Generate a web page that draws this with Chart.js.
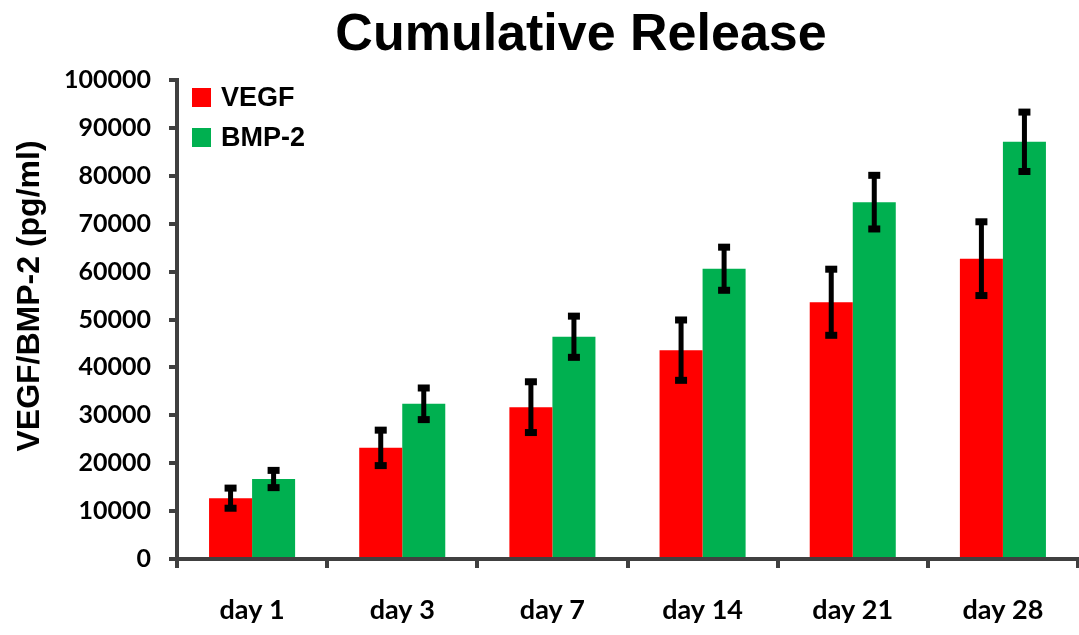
<html>
<head>
   <style>
   body{ margin: 0; background: #fff; }
   .chart-wrapper{
      width: 1079px;
      height: 635px;
   }
   </style>
</head>

<body>
   <div class="chart-wrapper">
      <canvas id="release-chart"></canvas>
   </div>
</body>

<script src="https://cdn.jsdelivr.net/npm/chart.js@4.4.0/dist/chart.umd.min.js"></script>

<script>
// Chart data
var days = ["day 1", "day 3", "day 7", "day 14", "day 21", "day 28"];
var vegf = [12700, 23200, 31700, 43600, 53600, 62700];
var vegfErr = [2100, 3700, 5300, 6300, 6900, 7700];
var bmp2 = [16700, 32400, 46400, 60600, 74500, 87100];
var bmp2Err = [1800, 3300, 4300, 4500, 5600, 6200];
var chartTitle = "Cumulative Release";
var yTitle = "VEGF/BMP-2 (pg/ml)";

var axisColor = "#404040";

// error bars drawn on top of bars
var errorBars = {
   id: "errorBars",
   afterDatasetsDraw: function (chart) {
      var ctx = chart.ctx;
      var y = chart.scales.y;
      chart.data.datasets.forEach(function (ds, i) {
         var meta = chart.getDatasetMeta(i);
         meta.data.forEach(function (bar, j) {
            var top = y.getPixelForValue(ds.data[j] + ds.errors[j]);
            var bot = y.getPixelForValue(ds.data[j] - ds.errors[j]);
            ctx.save();
            ctx.fillStyle = "#000";
            ctx.fillRect(bar.x - 2.5, top, 5, bot - top);
            ctx.fillRect(bar.x - 6, top - 3.5, 12, 7);
            ctx.fillRect(bar.x - 6, bot - 3.5, 12, 7);
            ctx.restore();
         });
      });
   }
};

// title, rotated y title and legend inside the plot
var extraText = {
   id: "extraText",
   afterDraw: function (chart) {
      var ctx = chart.ctx;
      ctx.save();
      ctx.font = "bold 52px 'Liberation Sans', Arial";
      ctx.fillStyle = "#000";
      ctx.textAlign = "center";
      ctx.textBaseline = "alphabetic";
      ctx.fillText(chartTitle, 581, 50);
      ctx.restore();

      ctx.save();
      ctx.translate(30, 296);
      ctx.rotate(-Math.PI / 2);
      ctx.font = "bold 32px 'Liberation Sans', Arial";
      ctx.fillStyle = "#000";
      ctx.textAlign = "center";
      ctx.textBaseline = "middle";
      ctx.fillText(yTitle, 0, 0);
      ctx.restore();

      ctx.save();
      ctx.font = "bold 27px 'Liberation Sans', Arial";
      ctx.textBaseline = "middle";
      chart.data.datasets.forEach(function (ds, i) {
         var cy = 98 + i * 40;
         ctx.fillStyle = ds.backgroundColor;
         ctx.fillRect(192, cy - 10, 19, 19);
         ctx.fillStyle = "#000";
         ctx.fillText(ds.label, 221, cy + 1);
      });
      ctx.restore();
   }
};

var context = document.getElementById("release-chart").getContext("2d");
var myChart = new Chart(context, {
   type: "bar",
   data: {
      labels: days,
      datasets: [
         { label: "VEGF", data: vegf, errors: vegfErr, backgroundColor: "#FF0000" },
         { label: "BMP-2", data: bmp2, errors: bmp2Err, backgroundColor: "#00B050" }
      ]
   },
   options: {
      responsive: true,
      maintainAspectRatio: false,
      animation: false,
      categoryPercentage: 0.573,
      barPercentage: 1,
      layout: { padding: { left: 0, right: 1, top: 80, bottom: 0 } },
      plugins: {
         tooltip: { enabled: false },
         legend: { display: false },
         title: { display: false }
      },
      scales: {
         x: {
            afterFit: function (scale) { scale.height = 76; },
            border: { color: axisColor, width: 4 },
            grid: { display: true, drawOnChartArea: false, drawTicks: true, tickLength: 9, color: axisColor, lineWidth: 4 },
            ticks: {
               color: "#000",
               padding: 26,
               font: { family: "Lato", size: 27, weight: "bold" }
            }
         },
         y: {
            min: 0,
            max: 100000,
            afterFit: function (scale) { scale.width = 177; },
            border: { color: axisColor, width: 4 },
            grid: { display: true, drawOnChartArea: false, drawTicks: true, tickLength: 8, color: axisColor, lineWidth: 4 },
            ticks: {
               stepSize: 10000,
               color: "#000",
               padding: 18,
               font: { family: "Lato", size: 25, weight: "bold" },
               callback: function (v) { return String(v); }
            }
         }
      }
   },
   plugins: [errorBars, extraText]
});
</script>
</html>
